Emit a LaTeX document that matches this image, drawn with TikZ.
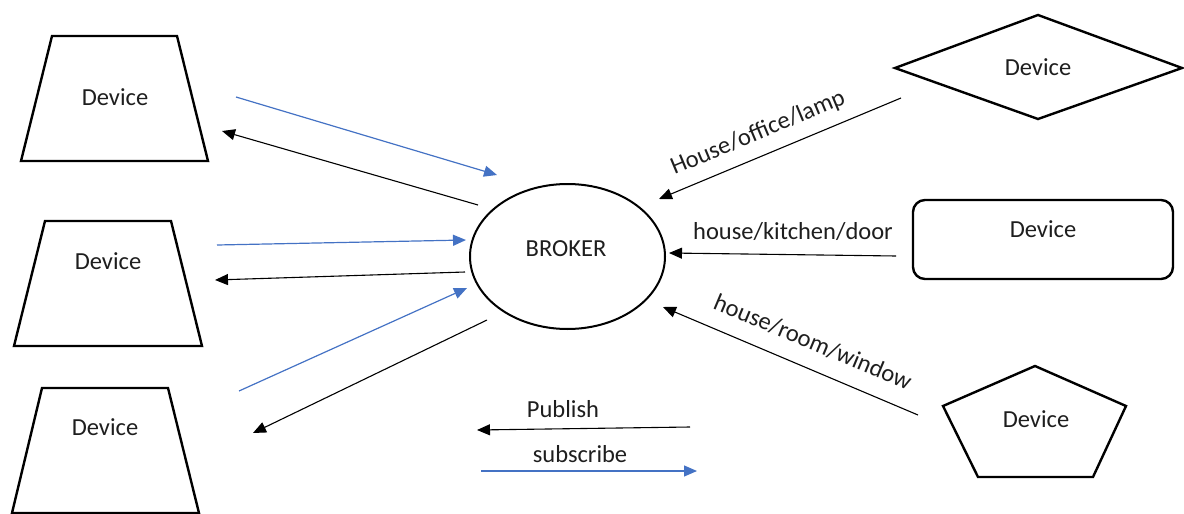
\documentclass[tikz,border=0pt]{standalone}
\usepackage{fontspec}
\setmainfont{Carlito}
\usetikzlibrary{arrows.meta,shapes.geometric}
\definecolor{blueline}{RGB}{68,114,196}
\definecolor{inkgray}{RGB}{30,30,30}
\begin{document}
\begin{tikzpicture}[x=1pt,y=-1pt,
  outline/.style={draw=black, line width=2.4pt, line join=miter},
  lbl/.style={font=\fontsize{24.5}{28}\selectfont, inner sep=0pt, text=inkgray},
  tip/.style={-{Triangle[length=13pt,width=11pt]}},
  pubarrow/.style={draw=black, line width=1.1pt, tip},
  subarrow/.style={draw=blueline, line width=1.2pt, tip, blueline},
]
\useasboundingbox (0,0) rectangle (1184,514);

% ---- devices on the left (trapezoids) ----
\draw[outline] (52,36) -- (177,36) -- (208,161) -- (21,161) -- cycle;
\node[lbl] (dev1) at (115,97) {Device};
\draw[outline] (45,221) -- (171,221) -- (202,346) -- (14,346) -- cycle;
\node[lbl] (dev2) at (108,261) {Device};
\draw[outline] (42,388) -- (168,388) -- (199,513) -- (12,513) -- cycle;
\node[lbl] (dev3) at (105,427) {Device};

% ---- broker ----
\node[ellipse, draw=black, line width=2pt, minimum width=195pt, minimum height=145pt, inner sep=0pt] (broker) at (567.5,256.5) {};
\node[lbl] (brokertxt) at (566,249) {BROKER};

% ---- devices on the right ----
\draw[outline] (895,68) -- (1038,15) -- (1182,68) -- (1038,119) -- cycle;
\node[lbl] (dev4) at (1038,67) {Device};
\draw[outline, rounded corners=12pt] (913,200) rectangle (1173,279);
\node[lbl] (dev5) at (1043,229) {Device};
\draw[outline] (1035,366) -- (1126,406) -- (1093,477) -- (978,477) -- (943,406) -- cycle;
\node[lbl] (dev6) at (1036,419) {Device};

% ---- arrow end points ----
\coordinate (s1) at (236,97);   \coordinate (e1) at (497,175);
\coordinate (s2) at (478,205);  \coordinate (e2) at (222,131);
\coordinate (s3) at (217,245);  \coordinate (e3) at (466,240);
\coordinate (s4) at (465,272);  \coordinate (e4) at (215,280);
\coordinate (s5) at (239,391);  \coordinate (e5) at (467,288);
\coordinate (s6) at (487,320);  \coordinate (e6) at (253,433);
\coordinate (s7) at (901,98);   \coordinate (e7) at (659,199);
\coordinate (s8) at (896,256);  \coordinate (e8) at (669,253);
\coordinate (s9) at (918,415);  \coordinate (e9) at (663,307);
\coordinate (sp) at (690,427);  \coordinate (ep) at (477,430);
\coordinate (ss) at (481,471);  \coordinate (es) at (697,471);

% ---- left side traffic ----
\draw[subarrow] (s1) -- (e1);
\draw[pubarrow] (s2) -- (e2);
\draw[subarrow] (s3) -- (e3);
\draw[pubarrow] (s4) -- (e4);
\draw[subarrow] (s5) -- (e5);
\draw[pubarrow] (s6) -- (e6);

% ---- right side topics ----
\draw[pubarrow] (s7) -- (e7);
\node[lbl, rotate=22.7] (t1) at (758,133) {House/office/lamp};
\draw[pubarrow] (s8) -- (e8);
\node[lbl] (t2) at (793,232) {house/kitchen/door};
\draw[pubarrow] (s9) -- (e9);
\node[lbl, rotate=-22.8] (t3) at (813,342) {house/room/window};

% ---- legend ----
\draw[pubarrow] (sp) -- (ep);
\node[lbl] (lp) at (563,409) {Publish};
\draw[subarrow] (ss) -- (es);
\node[lbl] (ls) at (580,454) {subscribe};
\end{tikzpicture}
\end{document}
